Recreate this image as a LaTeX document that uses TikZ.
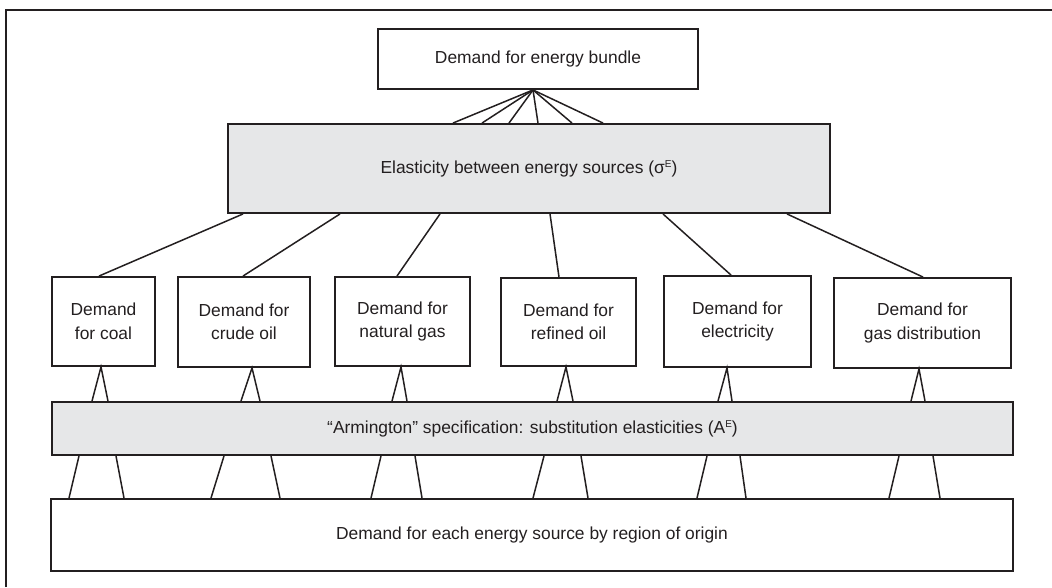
\documentclass[tikz,border=0pt]{standalone}
\usepackage{fontspec}
\setmainfont{Liberation Sans}
\usetikzlibrary{calc}
\definecolor{ink}{HTML}{231F20}
\definecolor{panel}{HTML}{E6E7E8}
\newcommand\supE{\raisebox{0.62ex}{\fontsize{10}{10}\selectfont E}}
\tikzset{
  box/.style={draw=ink, line width=1.9pt, text=ink, inner sep=0pt, align=center,
    font=\fontsize{17.4}{23.5}\selectfont},
  shaded/.style={box, fill=panel},
  link/.style={draw=ink, line width=1.5pt},
  frame/.style={draw=ink, line width=2.2pt}
}
\begin{document}
\begin{tikzpicture}[x=1pt,y=-1pt]
\useasboundingbox (0,0) rectangle (1052,587);
\draw[frame] (6,587) -- (6,10) -- (1052,10);

\node[box, minimum width=320pt, minimum height=60pt] (top) at (538,59) {Demand for energy bundle};
\node[shaded, minimum width=602pt, minimum height=89pt] (elas) at (529,168.5) {Elasticity between energy sources (σ\supE)};

\node[box, minimum width=103pt, minimum height=89pt] (b1) at (103.5,321.5) {Demand\\for coal};
\node[box, minimum width=132pt, minimum height=90pt] (b2) at (244,322) {Demand for\\crude oil};
\node[box, minimum width=135pt, minimum height=89pt] (b3) at (402.5,321.5) {Demand for\\natural gas};
\node[box, minimum width=135pt, minimum height=88pt] (b4) at (568.5,322) {Demand for\\refined oil};
\node[box, minimum width=147pt, minimum height=91pt] (b5) at (737.5,321.5) {Demand for\\electricity};
\node[box, minimum width=177pt, minimum height=90pt] (b6) at (922.5,323) {Demand for\\gas distribution};

\node[shaded, minimum width=961pt, minimum height=53pt] (arm) at (532.5,428.5) {“Armington” specification: substitution elasticities (A\supE)};
\node[box, minimum width=962pt, minimum height=72pt] (bot) at (532,535) {Demand for each energy source by region of origin};

% fan from energy bundle to elasticity box
\foreach \x in {453,482,509,538,572,603}
  \draw[link] ([xshift=-5pt]top.south) -- ([xshift=\x pt-529pt]elas.north);

% elasticity box to the six demand boxes
\foreach \b/\c/\e/\t in {b1/103.5/243/99, b2/244/340/243, b3/402.5/440/397, b4/568.5/550/559, b5/737.5/663/731, b6/922.5/787/923}
  \draw[link] ([xshift=\e pt-529pt]elas.south) -- ([xshift=\t pt-\c pt]\b.north);

% triangles from Armington box up to each demand box
\foreach \b/\c/\a/\l/\r in {b1/103.5/101/92/108, b2/244/252/241/260, b3/402.5/401/392/407, b4/568.5/566/557/573, b5/737.5/727/718/732, b6/922.5/919/911/925}
  \draw[link] ([xshift=\l pt-532.5pt]arm.north) -- ([xshift=\a pt-\c pt]\b.south) -- ([xshift=\r pt-532.5pt]arm.north);

% splayed pairs from bottom box to Armington box
\foreach \p/\q/\r/\s in {79/69/116/124, 224/211/271/280, 381/371/415/422, 544/533/581/588, 707/697/740/746, 899/889/933/940}{
  \draw[link] ([xshift=\p pt-532.5pt]arm.south) -- ([xshift=\q pt-532pt]bot.north);
  \draw[link] ([xshift=\r pt-532.5pt]arm.south) -- ([xshift=\s pt-532pt]bot.north);
}
\end{tikzpicture}
\end{document}
